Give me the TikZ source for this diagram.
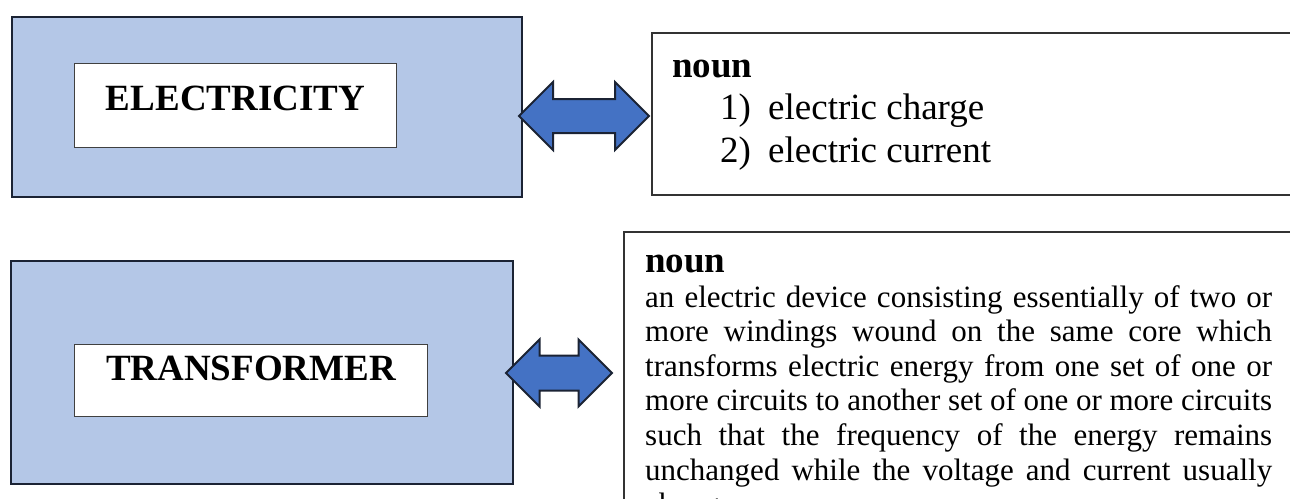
\documentclass[tikz,border=0pt]{standalone}
\usepackage{fontspec}
\setmainfont{Liberation Serif}
\usetikzlibrary{shapes.arrows,positioning}
\definecolor{paleblue}{RGB}{180,199,231}
\definecolor{midblue}{RGB}{68,114,196}
\definecolor{navy}{RGB}{27,35,52}
\tikzset{
  termbox/.style={draw=navy,line width=2.4pt,fill=paleblue,anchor=north west,inner sep=0pt},
  wordbox/.style={draw=black!75,line width=1pt,fill=white,anchor=north west,inner sep=0pt,align=center,font=\fontsize{37}{42}\selectfont\bfseries},
  twoway/.style={shape=double arrow,draw=navy,line width=2pt,fill=midblue,inner xsep=0pt,double arrow tip angle=90},
  defbox/.style={draw=black!80,line width=1.5pt,fill=white,anchor=north west,inner sep=0pt},
  headword/.style={anchor=base west,inner sep=0pt,font=\fontsize{37}{42}\selectfont\bfseries},
  sense/.style={anchor=base west,inner sep=0pt,font=\fontsize{37}{42}\selectfont},
  gloss/.style={anchor=base west,inner sep=0pt,font=\fontsize{31}{35}\selectfont}
}
\begin{document}
\begin{tikzpicture}[x=1pt,y=-1pt]
\useasboundingbox (0,0) rectangle (1290,498);
\clip (0,0) rectangle (1290,498);
% electricity
\node[termbox,minimum width=510pt,minimum height=180pt] (elecbox) at (11,16) {};
\node[wordbox,text width=322pt,text height=47pt,text depth=37pt] (elecword) at (74,63) {ELECTRICITY};
\node[twoway,inner ysep=16pt,minimum height=130pt,double arrow head extend=17pt] (elecarrow) at (584,116) {};
\node[defbox,minimum width=700pt,minimum height=162pt] (elecdef) at (651,32) {};
\node[headword] (elecnoun) at (672,77.6) {noun};
\node[sense] (elecsense1) at (720,119.5) {\makebox[48pt][l]{1)}electric charge};
\node[sense] (elecsense2) at (720,162) {\makebox[48pt][l]{2)}electric current};
% transformer
\node[termbox,minimum width=502pt,minimum height=223pt] (tranbox) at (10,260) {};
\node[wordbox,text width=353pt,text height=36pt,text depth=36pt] (tranword) at (74,344) {TRANSFORMER};
\node[twoway,inner ysep=16.5pt,minimum height=106pt,double arrow head extend=16pt] (tranarrow) at (559,373) {};
\node[defbox,minimum width=700pt,minimum height=300pt] (trandef) at (623,231) {};
\node[headword] (trannoun) at (645,272) {noun};
\node[gloss] (tranline1) at (645,307) {\makebox[627pt][s]{an electric device consisting essentially of two or}};
\node[gloss] (tranline2) at (645,341.6) {\makebox[627pt][s]{more windings wound on the same core which}};
\node[gloss] (tranline3) at (645,376.2) {\makebox[627pt][s]{transforms electric energy from one set of one or}};
\node[gloss] (tranline4) at (645,410.8) {\makebox[627pt][s]{more circuits to another set of one or more circuits}};
\node[gloss] (tranline5) at (645,445.4) {\makebox[627pt][s]{such that the frequency of the energy remains}};
\node[gloss] (tranline6) at (645,480) {\makebox[627pt][s]{unchanged while the voltage and current usually}};
\node[gloss] (tranline7) at (645,514.6) {changes.};
\end{tikzpicture}
\end{document}
